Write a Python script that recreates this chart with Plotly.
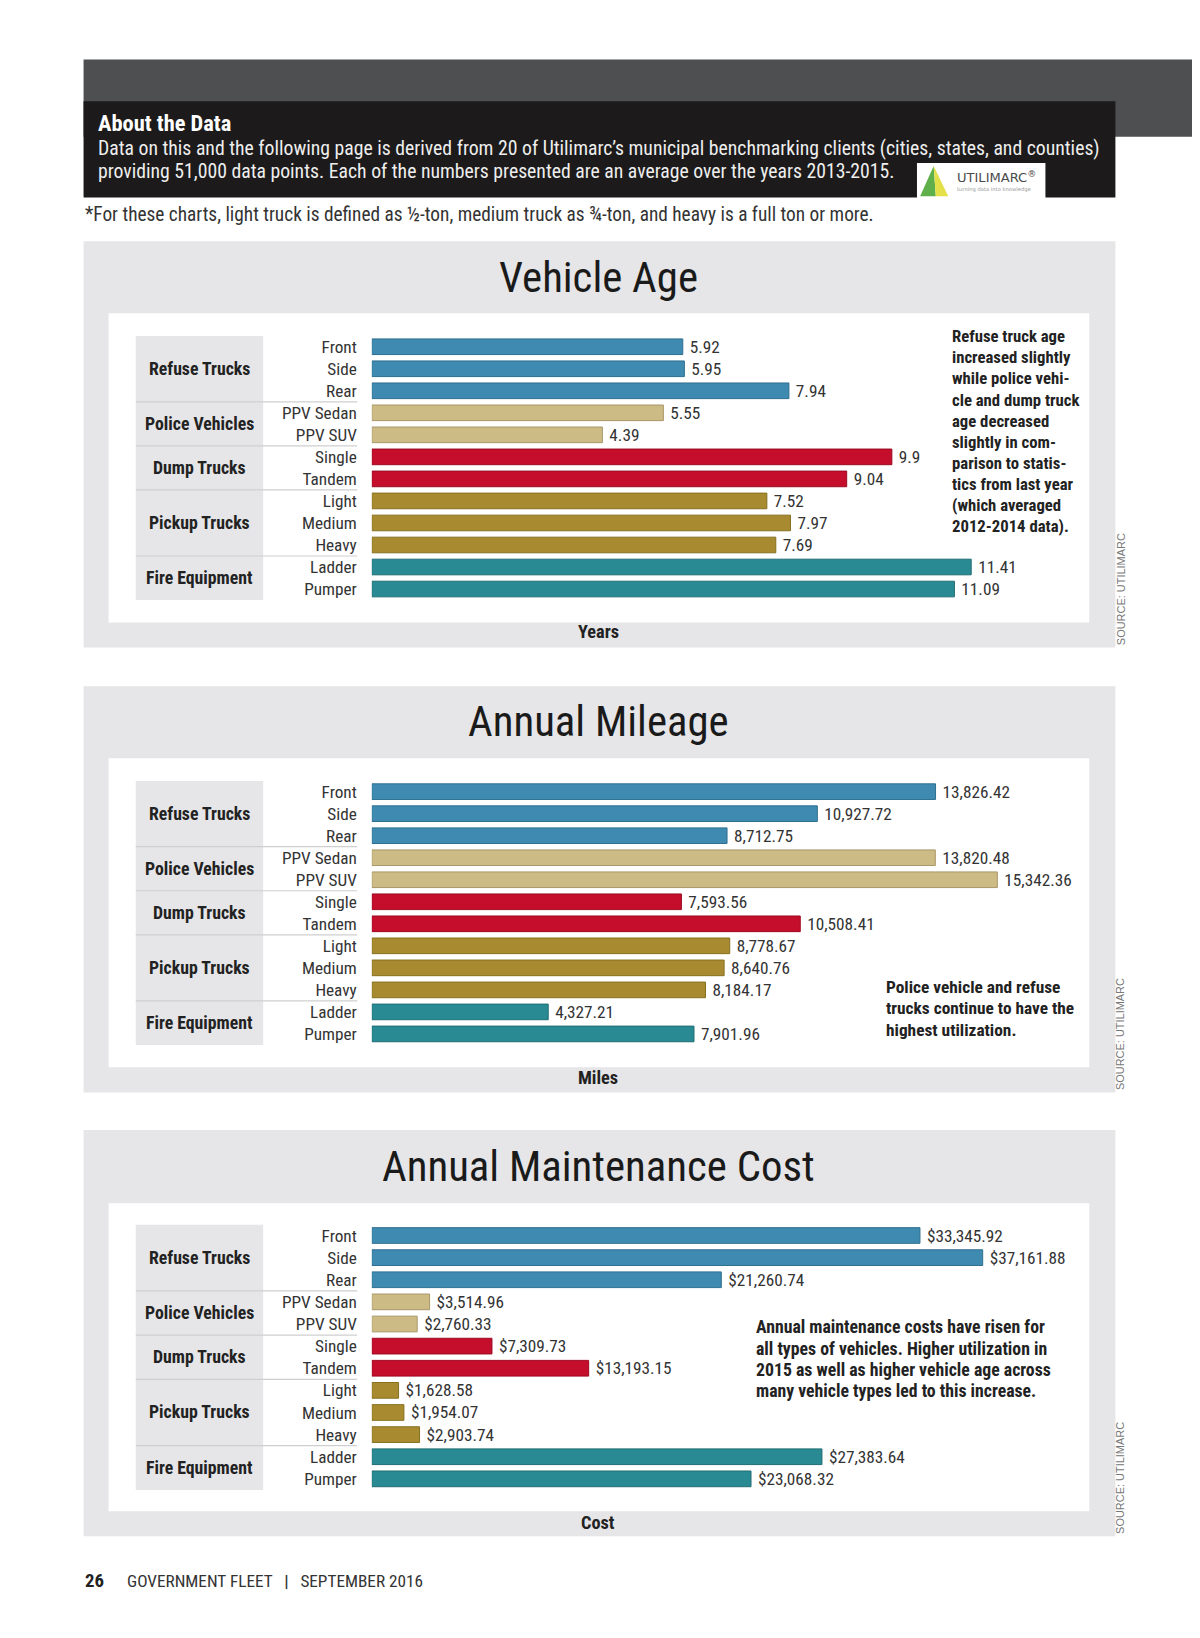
import plotly.graph_objects as go

# ---------------- data ----------------
groups = ["Refuse Trucks", "Police Vehicles", "Dump Trucks", "Pickup Trucks", "Fire Equipment"]
group_sizes = [3, 2, 2, 3, 2]
subtypes = ["Front", "Side", "Rear", "PPV Sedan", "PPV SUV", "Single", "Tandem",
            "Light", "Medium", "Heavy", "Ladder", "Pumper"]
vehicle_age = [5.92, 5.95, 7.94, 5.55, 4.39, 9.9, 9.04, 7.52, 7.97, 7.69, 11.41, 11.09]
annual_mileage = [13826.42, 10927.72, 8712.75, 13820.48, 15342.36, 7593.56, 10508.41,
                  8778.67, 8640.76, 8184.17, 4327.21, 7901.96]
maintenance_cost = [33345.92, 37161.88, 21260.74, 3514.96, 2760.33, 7309.73, 13193.15,
                    1628.58, 1954.07, 2903.74, 27383.64, 23068.32]
group_colors = ["#3f8ab0", "#cdbb85", "#c50e2b", "#a88a30", "#2a8a93"]
group_edges = ["#2f6f90", "#a8976a", "#9c0a22", "#86701f", "#1f6d74"]

panel_titles = ["Vehicle Age", "Annual Mileage", "Annual Maintenance Cost"]
axis_titles = ["Years", "Miles", "Cost"]
notes = [
    ["Refuse truck age", "increased slightly", "while police vehi-", "cle and dump truck",
     "age decreased", "slightly in com-", "parison to statis-", "tics from last year",
     "(which averaged", "2012-2014 data)."],
    ["Police vehicle and refuse", "trucks continue to have the", "highest utilization."],
    ["Annual maintenance costs have risen for", "all types of vehicles. Higher utilization in",
     "2015 as well as higher vehicle age across", "many vehicle types led to this increase."],
]

# ---------------- layout helpers (reference pixel coords, 1149 x 1568.4 grid) ----------------
PAGE_W, PAGE_H = 1200, 1638
OFF = 8  # browser body margin
W, H = PAGE_W - OFF, PAGE_H - 2 * OFF
DW = 1149.0
S = PAGE_W / DW
def X(x): return (x * S - OFF) / W
def Y(y): return 1 - (y * S - OFF) / H
def fs(s): return s * S

NARROW = "Liberation Sans Narrow, Roboto Condensed, Arial Narrow, sans-serif"

colors = []
edges = []
for g, n in enumerate(group_sizes):
    colors += [group_colors[g]] * n
    edges += [group_edges[g]] * n

fig = go.Figure()

panels = [
    dict(vals=vehicle_age, tmpl=" %{x}", scale=50.3, top=231, bot=620, wtop=300, wbot=596,
         rows=(332, 564), title_y=265, axis_y=605, note=(910, 322, 20.2, 16)),
    dict(vals=annual_mileage, tmpl=" %{x:,.2f}", scale=0.03904, top=657, bot=1046, wtop=726, wbot=1022,
         rows=(758, 990), title_y=690, axis_y=1032, note=(846, 945, 20.5, 16.6)),
    dict(vals=maintenance_cost, tmpl=" $%{x:,.2f}", scale=0.01574, top=1082, bot=1471, wtop=1152, wbot=1447,
         rows=(1183, 1416), title_y=1116, axis_y=1458, note=(722, 1271, 20.3, 17)),
]

shapes = []
annotations = []

# header band
shapes.append(dict(type="rect", xref="paper", yref="paper", x0=X(80), x1=1.0, y0=Y(131), y1=Y(57),
                   fillcolor="#4d4f51", line_width=0, layer="below"))
shapes.append(dict(type="rect", xref="paper", yref="paper", x0=X(80), x1=X(1068), y0=Y(189), y1=Y(97),
                   fillcolor="#1c1a1a", line_width=0, layer="below"))
# logo
shapes.append(dict(type="rect", xref="paper", yref="paper", x0=X(878), x1=X(1001), y0=Y(189.5), y1=Y(156),
                   fillcolor="#ffffff", line_width=0, layer="below"))
shapes.append(dict(type="path", xref="paper", yref="paper",
                   path=f"M {X(881)} {Y(188)} L {X(894)} {Y(159)} L {X(896)} {Y(188)} Z",
                   fillcolor="#5fb04a", line_width=0))
shapes.append(dict(type="path", xref="paper", yref="paper",
                   path=f"M {X(894)} {Y(159)} L {X(908)} {Y(188)} L {X(896)} {Y(188)} Z",
                   fillcolor="#e3e04a", line_width=0))
annotations.append(dict(x=X(914), y=Y(169), xref="paper", yref="paper", text="UTILIMARC<sup>®</sup>",
                        showarrow=False, xanchor="left", yanchor="middle",
                        font=dict(family="DejaVu Sans, sans-serif", size=fs(12.5), color="#4a4a4a")))
annotations.append(dict(x=X(914), y=Y(181), xref="paper", yref="paper", text="turning data into knowledge",
                        showarrow=False, xanchor="left", yanchor="middle",
                        font=dict(family="DejaVu Sans, sans-serif", size=fs(5), color="#9a9a9a")))

annotations.append(dict(x=X(92), y=Y(118), xref="paper", yref="paper", text="<b>About the Data</b>",
                        showarrow=False, xanchor="left", yanchor="middle",
                        font=dict(family=NARROW, size=fs(21.5), color="#ffffff")))
annotations.append(dict(x=X(92), y=Y(142), xref="paper", yref="paper",
                        text="Data on this and the following page is derived from 20 of Utilimarc’s municipal benchmarking clients (cities, states, and counties)",
                        showarrow=False, xanchor="left", yanchor="middle",
                        font=dict(family=NARROW, size=fs(18.9), color="#eeeeee")))
annotations.append(dict(x=X(92), y=Y(164), xref="paper", yref="paper",
                        text="providing 51,000 data points. Each of the numbers presented are an average over the years 2013-2015.",
                        showarrow=False, xanchor="left", yanchor="middle",
                        font=dict(family=NARROW, size=fs(18.9), color="#eeeeee")))
annotations.append(dict(x=X(79), y=Y(205), xref="paper", yref="paper",
                        text="*For these charts, light truck is defined as ½-ton, medium truck as ¾-ton, and heavy is a full ton or more.",
                        showarrow=False, xanchor="left", yanchor="middle",
                        font=dict(family=NARROW, size=fs(18.5), color="#333333")))

# footer
annotations.append(dict(x=X(79), y=Y(1514), xref="paper", yref="paper", text="<b>26</b>",
                        showarrow=False, xanchor="left", yanchor="middle",
                        font=dict(family=NARROW, size=fs(18), color="#222222")))
annotations.append(dict(x=X(120), y=Y(1514), xref="paper", yref="paper",
                        text="GOVERNMENT FLEET   <b>|</b>   SEPTEMBER 2016",
                        showarrow=False, xanchor="left", yanchor="middle",
                        font=dict(family=NARROW, size=fs(16.5), color="#333333")))

# group boundaries in category index coordinates
bounds = []
acc = 0
centers = []
for n in group_sizes:
    centers.append(acc + (n - 1) / 2)
    acc += n
    bounds.append(acc - 0.5)
bounds = bounds[:-1]

layout_axes = {}
for i, p in enumerate(panels):
    k = "" if i == 0 else str(i + 1)
    xa, ya = "x" + k, "y" + k
    r0, r1 = p["rows"]
    step = (r1 - r0) / (len(subtypes) - 1)
    dom_top = r0 - step / 2
    dom_bot = r1 + step / 2
    x_left, x_right = 356, 1043
    xmax = (x_right - x_left) / p["scale"]

    fig.add_trace(go.Bar(
        x=p["vals"], y=subtypes, orientation="h", xaxis=xa, yaxis=ya,
        marker=dict(color=colors, line=dict(color=edges, width=1)),
        width=0.71, texttemplate=p["tmpl"], textposition="outside", cliponaxis=False,
        constraintext="none",
        textfont=dict(family=NARROW, size=fs(16.5), color="#333333"),
        showlegend=False, hoverinfo="skip"))

    layout_axes["xaxis" + k] = dict(domain=[X(x_left), X(x_right)], range=[0, xmax], anchor=ya,
                                    visible=False, fixedrange=True)
    layout_axes["yaxis" + k] = dict(domain=[Y(dom_bot), Y(dom_top)], anchor=xa,
                                    categoryorder="array", categoryarray=subtypes,
                                    autorange="reversed", showgrid=False, zeroline=False,
                                    showline=False, ticks="", ticklabelstandoff=14,
                                    tickfont=dict(family=NARROW, size=fs(16.5), color="#333333"),
                                    fixedrange=True)

    # panel backgrounds
    shapes.append(dict(type="rect", xref="paper", yref="paper", x0=X(80), x1=X(1068),
                       y0=Y(p["bot"]), y1=Y(p["top"]), fillcolor="#e6e6e8", line_width=0, layer="below"))
    shapes.append(dict(type="rect", xref="paper", yref="paper", x0=X(104), x1=X(1043),
                       y0=Y(p["wbot"]), y1=Y(p["wtop"]), fillcolor="#ffffff", line_width=0, layer="below"))
    # group label column
    shapes.append(dict(type="rect", xref="paper", yref=ya, x0=X(130), x1=X(252),
                       y0=-0.5, y1=len(subtypes) - 0.5, fillcolor="#e6e6e8", line_width=0, layer="below"))
    for b in bounds:
        shapes.append(dict(type="line", xref="paper", yref=ya, x0=X(130), x1=X(342), y0=b, y1=b,
                           line=dict(color="#cfcfd2", width=1.2), layer="below"))
    for g, c in zip(groups, centers):
        annotations.append(dict(x=X(191), y=c, xref="paper", yref=ya, text=f"<b>{g}</b>",
                                showarrow=False, xanchor="center", yanchor="middle",
                                font=dict(family=NARROW, size=fs(17), color="#222222")))
    # title, axis title, note, source
    annotations.append(dict(x=X(573), y=Y(p["title_y"]), xref="paper", yref="paper",
                            text=panel_titles[i], showarrow=False, xanchor="center", yanchor="middle",
                            font=dict(family=NARROW, size=fs(41), color="#1a1a1a")))
    annotations.append(dict(x=X(573), y=Y(p["axis_y"]), xref="paper", yref="paper",
                            text=f"<b>{axis_titles[i]}</b>", showarrow=False, xanchor="center", yanchor="middle",
                            font=dict(family=NARROW, size=fs(17.5), color="#222222")))
    nx, ny, nstep, nsize = p["note"]
    for j, line in enumerate(notes[i]):
        annotations.append(dict(x=X(nx), y=Y(ny + j * nstep), xref="paper", yref="paper",
                                text=f"<b>{line}</b>", showarrow=False, xanchor="left", yanchor="middle",
                                align="left",
                                font=dict(family=NARROW, size=fs(nsize), color="#222222")))
    annotations.append(dict(x=X(1073), y=Y(p["bot"]), xref="paper", yref="paper",
                            text="SOURCE: UTILIMARC", textangle=-90, showarrow=False,
                            xanchor="center", yanchor="bottom",
                            font=dict(family="Liberation Sans, Arial, sans-serif", size=fs(10.5), color="#777777")))

fig.update_layout(
    width=W, height=H, margin=dict(l=0, r=0, t=0, b=0),
    paper_bgcolor="#ffffff", plot_bgcolor="rgba(0,0,0,0)",
    bargap=0.29, shapes=shapes, annotations=annotations, **layout_axes)

fig.write_html("out.html")
